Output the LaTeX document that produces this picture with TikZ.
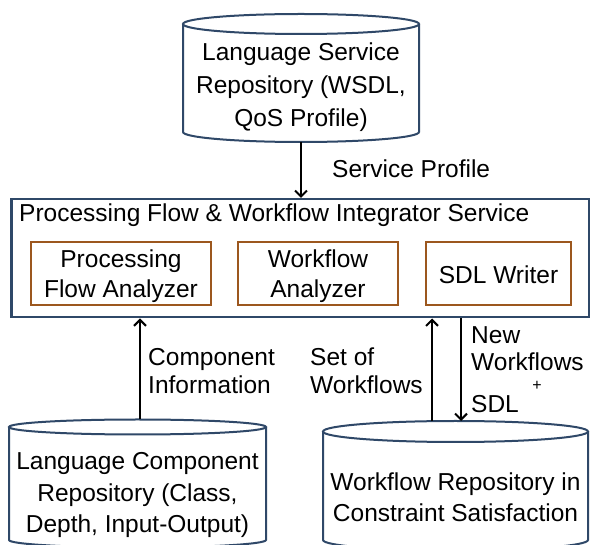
\documentclass[tikz,border=0pt]{standalone}
\usepackage{fontspec}
\setmainfont{Liberation Sans}
\usetikzlibrary{arrows.meta}
\definecolor{cylblue}{RGB}{47,72,104}
\definecolor{boxbrown}{RGB}{156,87,30}
\newcommand\mycyl[5]{% cx, top centre y, bottom centre y, rx, ry (pixels, y downwards)
  \path[cylline] (#1-#4,-#2) -- (#1-#4,-#3) arc[start angle=180,end angle=360,x radius=#4,y radius=#5] -- (#1+#4,-#2);
  \draw[cylline] (#1,-#2) ellipse[x radius=#4, y radius=#5];
}
\begin{document}
\begin{tikzpicture}[x=1pt,y=1pt,
  cylline/.style={draw=cylblue, line width=2pt, fill=white},
  bigbox/.style={draw=cylblue, line width=2.5pt, inner sep=0pt},
  compbox/.style={draw=boxbrown, line width=2pt, minimum height=63pt, inner sep=0pt},
  comptext/.style={inner sep=0pt, align=center, font=\fontsize{24.5}{30}\selectfont},
  lbl/.style={align=left, inner sep=0pt, font=\fontsize{24.5}{27.5}\selectfont},
  flow/.style={line width=2pt, -{Straight Barb[length=6pt,width=12pt,line width=2pt]}}
]
\useasboundingbox (0,0) rectangle (590,-545);
\begin{scope}
\clip (0,0) rectangle (590,-545);
% cylinders
\mycyl{301}{24}{132}{118}{10}
\mycyl{137.5}{427}{540}{128.5}{7.5}
\mycyl{455.5}{431.5}{540}{132.5}{10.5}
\end{scope}
% cylinder texts
\node[align=center, inner sep=0pt, font=\fontsize{24.5}{33}\selectfont] (lsr) at (301,-87) {Language Service\\Repository (WSDL,\\QoS Profile)};
\node[align=center, inner sep=0pt, font=\fontsize{24.5}{31.5}\selectfont] (lcr) at (137.5,-495) {Language Component\\Repository (Class,\\Depth, Input-Output)};
\node[align=center, inner sep=0pt, font=\fontsize{24.5}{31}\selectfont] (wr) at (455.5,-497) {Workflow Repository in\\Constraint Satisfaction};
% connector ends on cylinders
\coordinate (lsrbot) at (301,-142);
\coordinate (lcrtop) at (140,-419.5);
\coordinate (wrtopa) at (432,-421.2);
\coordinate (wrtopb) at (461,-421);
% integrator box
\node[bigbox, minimum width=578pt, minimum height=118pt, anchor=north west] (integrator) at (10,-198) {};
\node[anchor=west, inner sep=0pt, font=\fontsize{24.5}{28}\selectfont] (title) at (19,-215) {Processing Flow \& Workflow Integrator Service};
\node[compbox, minimum width=180pt] (pfa) at (121,-273.5) {};
\node[compbox, minimum width=160pt] (wfa) at (318,-273.5) {};
\node[compbox, minimum width=145pt] (sdlw) at (498.5,-273.5) {};
\node[comptext] (pfat) at ([yshift=-3pt]pfa.center) {Processing\\Flow Analyzer};
\node[comptext] (wfat) at ([yshift=-3pt]wfa.center) {Workflow\\Analyzer};
\node[comptext] (sdlwt) at ([yshift=-1pt]sdlw.center) {SDL Writer};
% connectors
\draw[flow] (lsrbot) -- (lsrbot |- integrator.north);
\draw[flow] (lcrtop) -- (lcrtop |- integrator.south);
\draw[flow] (wrtopa) -- (wrtopa |- integrator.south);
\draw[flow] (wrtopb |- integrator.south) -- (wrtopb);
% labels
\node[lbl, anchor=west] (lsp) at (332,-169) {Service Profile};
\node[lbl, anchor=west] (lci) at (148,-371) {Component\\Information};
\node[lbl, anchor=west] (lsw) at (310,-371) {Set of\\Workflows};
\node[lbl, anchor=west] (lnw) at (471,-348.5) {New\\Workflows};
\node[lbl, anchor=west] (lsdl) at (471,-404) {SDL};
\node[inner sep=0pt, font=\fontsize{16}{16}\selectfont] (lplus) at (537,-386) {+};
\end{tikzpicture}
\end{document}
